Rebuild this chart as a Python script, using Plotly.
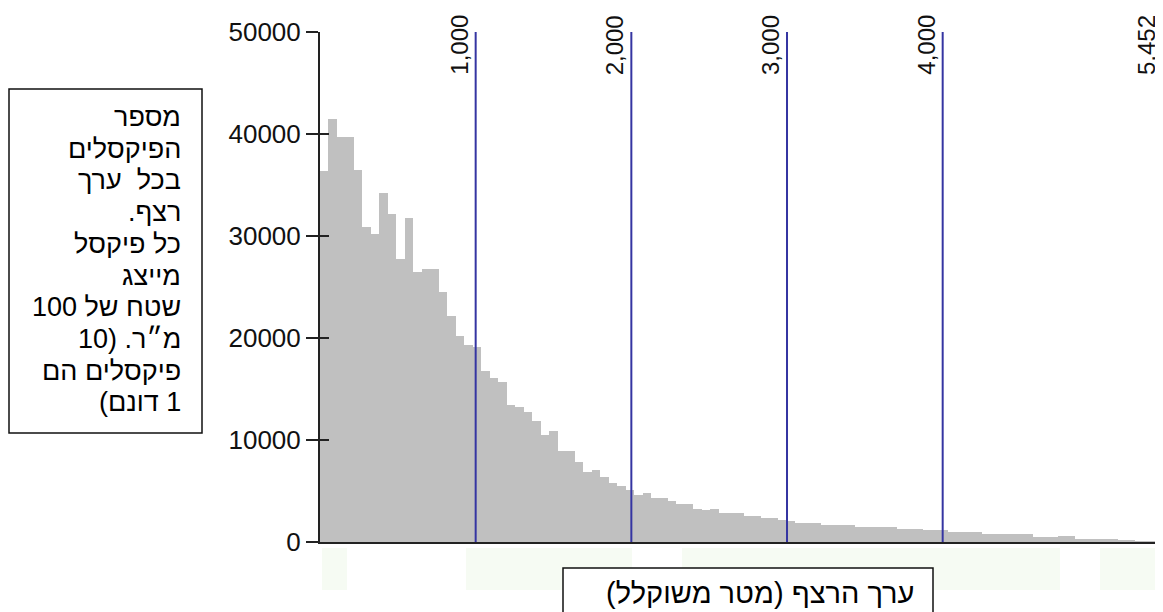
import numpy as np
import plotly.graph_objects as go

# ---------------- data ----------------
counts = [36400, 41500, 39700, 39700, 36500, 30900, 30200, 34200, 32200, 27700,
          31800, 26500, 26800, 26800, 24500, 22200, 20200, 19300, 19100, 16800,
          16100, 15700, 13400, 13200, 12700, 11900, 10500, 10900, 8900, 8900,
          7800, 6900, 7100, 6400, 5800, 5500, 5100, 4650, 4820, 4350,
          4350, 4020, 3760, 3700, 3270, 3100, 3270, 2840, 2840, 2840,
          2590, 2590, 2350, 2350, 2130, 2090, 1880, 1900, 1900, 1640,
          1640, 1640, 1700, 1470, 1470, 1470, 1470, 1470, 1250, 1250,
          1250, 1150, 1150, 1150, 980, 980, 980, 980, 820, 820,
          820, 750, 750, 750, 490, 490, 490, 560, 560, 330,
          330, 330, 260, 260, 230, 100, 80, 60, 40, 20]
max_value = 5452
marker_values = [1000, 2000, 3000, 4000]
marker_labels = ["1,000", "2,000", "3,000", "4,000"]
max_label = "5,452"
y_ticks = [0, 10000, 20000, 30000, 40000, 50000]
y_tick_labels = ["0", "10000", "20000", "30000", "40000", "50000"]
box_lines = ["מספר", "הפיקסלים", "בכל  ערך", "רצף.", "כל פיקסל", "מייצג",
             "שטח של 100", "מ״ר. (10", "פיקסלים הם", "1 דונם)"]
x_title = "ערך הרצף (מטר משוקלל)"

# ---------------- layout geometry ----------------
PAGE_OFF = 8                     # default body margin of the html page
W, H = 1163 - PAGE_OFF, 612 - PAGE_OFF
ML, MR, MT, MB = 312, 0, 24, 70
PW, PH = W - ML - MR, H - MT - MB
PX_PER_UNIT = 0.15567            # horizontal scale of the reference
x_max = PW / PX_PER_UNIT


def px_x(p):
    """page pixel -> paper fraction (x)"""
    return (p - PAGE_OFF - ML) / PW


def px_y(p):
    """page pixel -> paper fraction (y)"""
    return (MT + PH - (p - PAGE_OFF)) / PH


def rtl(s):
    return "\u202b" + s + "\u202c"


FONT = "Liberation Sans, Arial, DejaVu Sans, sans-serif"

n = len(counts)
bin_w = max_value / n
centers = (np.arange(n) + 0.5) * bin_w

fig = go.Figure()
fig.add_trace(go.Bar(x=centers, y=counts, width=bin_w,
                     marker=dict(color="#c0c0c0", line=dict(width=0)),
                     hoverinfo="skip", showlegend=False))
# invisible companion trace carrying the inner tick marks axis
fig.add_trace(go.Scatter(x=centers, y=counts, yaxis="y2", mode="lines",
                         line=dict(width=0), opacity=0, hoverinfo="skip",
                         showlegend=False))

shapes = []
# faint light-green patches below the axis
for a, b in [(322, 347), (466, 632), (682, 1060), (1100, 1163)]:
    shapes.append(dict(type="rect", xref="paper", yref="paper",
                       x0=px_x(a), x1=px_x(b), y0=px_y(548), y1=px_y(590),
                       fillcolor="#f6fbf3", line=dict(width=0), layer="below"))
for v in marker_values + [max_value]:
    shapes.append(dict(type="line", xref="x", yref="paper", x0=v, x1=v,
                       y0=0, y1=1, line=dict(color="#3535a2", width=2),
                       layer="above"))
# left text box
shapes.append(dict(type="rect", xref="paper", yref="paper",
                   x0=px_x(9), x1=px_x(202), y0=px_y(89), y1=px_y(433),
                   line=dict(color="#111111", width=1.5), fillcolor="white"))
# bottom text box
shapes.append(dict(type="rect", xref="paper", yref="paper",
                   x0=px_x(563), x1=px_x(933), y0=px_y(568), y1=px_y(640),
                   line=dict(color="#111111", width=1.5), fillcolor="white"))

annotations = []
for v, lab in zip(marker_values, marker_labels):
    annotations.append(dict(x=v, xref="x", y=1, yref="paper", text=lab,
                            textangle=-90, showarrow=False, xanchor="center",
                            yanchor="middle", xshift=-17, yshift=-13,
                            font=dict(family=FONT, size=24, color="#111")))
annotations.append(dict(x=1, xref="x domain", y=1, yref="paper", text=max_label,
                        textangle=-90, showarrow=False, xanchor="center",
                        yanchor="middle", xshift=-17, yshift=-13,
                        font=dict(family=FONT, size=24, color="#111")))
LINE0, LINE_STEP = 117, 31.7
for i, s in enumerate(box_lines):
    annotations.append(dict(x=px_x(183), xref="paper",
                            y=px_y(LINE0 + i * LINE_STEP), yref="paper",
                            text=rtl(s), showarrow=False, xanchor="right",
                            yanchor="middle", align="right",
                            font=dict(family=FONT, size=27, color="#000")))
annotations.append(dict(x=px_x(916), xref="paper", y=px_y(593), yref="paper",
                        text=rtl(x_title), showarrow=False, xanchor="right",
                        yanchor="middle", align="right",
                        font=dict(family=FONT, size=29, color="#000")))

fig.update_layout(
    width=W, height=H,
    margin=dict(l=ML, r=MR, t=MT, b=MB),
    paper_bgcolor="white", plot_bgcolor="white",
    bargap=0, showlegend=False,
    xaxis=dict(range=[0, x_max], showline=True, linecolor="#222", linewidth=2,
               showticklabels=False, ticks="", showgrid=False, zeroline=False,
               fixedrange=True),
    yaxis=dict(range=[0, 50000], tickvals=y_ticks, ticktext=y_tick_labels,
               ticks="outside", ticklen=12, tickwidth=1.5, tickcolor="#222",
               showline=True, linecolor="#222", linewidth=2, showgrid=False,
               zeroline=False, fixedrange=True,
               tickfont=dict(family=FONT, size=26, color="#111")),
    yaxis2=dict(range=[0, 50000], overlaying="y", anchor="x", side="left",
                tickvals=y_ticks, ticks="inside", ticklen=9, tickwidth=1.5,
                tickcolor="#222", showticklabels=False, showline=False,
                showgrid=False, zeroline=False, fixedrange=True),
    shapes=shapes, annotations=annotations,
)

fig.write_html("out.html")
